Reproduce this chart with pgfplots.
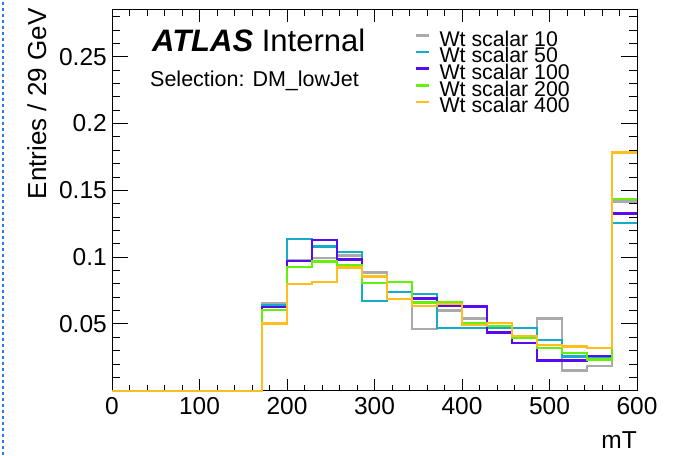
\documentclass[border=0pt]{standalone}
\usepackage{pgfplots}
\usepackage{pgfplotstable}
\pgfplotsset{compat=1.18}
\usepackage{fontspec}
\setmainfont{Liberation Sans}
\definecolor{cgray}{RGB}{170,170,170}
\definecolor{ccyan}{RGB}{20,172,200}
\definecolor{cpurple}{RGB}{90,10,240}
\definecolor{cgreen}{RGB}{100,240,10}
\definecolor{corange}{RGB}{255,190,30}
\definecolor{cblue}{RGB}{40,120,240}

\pgfplotstableread{
x gray cyan purple green orange
0 0 0 0 0 0
28.571 0 0 0 0 0
57.143 0 0 0 0 0
85.714 0 0 0 0 0
114.286 0 0 0 0 0
142.857 0 0 0 0 0
171.429 0.0655 0.064 0.0627 0.0603 0.0502
200 0.098 0.1135 0.097 0.0925 0.0797
228.571 0.0992 0.108 0.113 0.0967 0.0812
257.143 0.1012 0.1037 0.0982 0.0942 0.0922
285.714 0.0885 0.0672 0.0855 0.0807 0.0855
314.286 0.0685 0.074 0.0685 0.0815 0.0685
342.857 0.046 0.0725 0.069 0.066 0.0635
371.429 0.060 0.0468 0.0635 0.066 0.0648
400 0.054 0.047 0.063 0.0505 0.049
428.571 0.0485 0.047 0.0435 0.0485 0.0505
457.143 0.041 0.047 0.0355 0.0397 0.041
485.714 0.054 0.038 0.0225 0.0318 0.034
514.286 0.015 0.0255 0.0225 0.028 0.033
542.857 0.0185 0.025 0.0262 0.0235 0.0318
571.429 0.1417 0.1255 0.1327 0.1435 0.1784
600 0.1417 0.1255 0.1327 0.1435 0.1784
}\histdata

\begin{document}
\begin{tikzpicture}
\path[use as bounding box] (0,0) rectangle (677pt,455pt);
\draw[cblue, line width=2pt, dash pattern=on 3pt off 3pt] (2.5pt,0pt) -- (2.5pt,455pt);
\begin{axis}[
  at={(112pt,64.3pt)}, anchor=south west,
  scale only axis, width=525pt, height=380.7pt,
  xmin=0, xmax=600, ymin=0, ymax=0.285,
  xtick={0,100,200,300,400,500,600}, minor x tick num=4,
  ytick={0.05,0.1,0.15,0.2,0.25},
  minor ytick={0.01,0.02,0.03,0.04,0.06,0.07,0.08,0.09,0.11,0.12,0.13,0.14,0.16,0.17,0.18,0.19,0.21,0.22,0.23,0.24,0.26,0.27,0.28},
  tick align=inside,
  xtick style={/pgfplots/major tick length=12pt, /pgfplots/minor tick length=6pt, black, line width=0.9pt},
  ytick style={/pgfplots/major tick length=16pt, /pgfplots/minor tick length=8pt, black, line width=0.9pt},
  axis line style={line width=1pt},
  tick label style={font=\fontsize{24.5}{24.5}\selectfont},
  /pgf/number format/assume math mode=true,
  yticklabel style={/pgf/number format/fixed, /pgf/number format/precision=2, inner sep=0pt, xshift=-5pt},
  xticklabel style={inner sep=0pt, yshift=-6pt},
  scaled y ticks=false,
  clip=false,
  legend cell align=left,
  legend style={at={(rel axis cs:0.5771,0.9448)}, anchor=north west, draw=none, fill=none,
    inner sep=0pt, outer sep=0pt, row sep=0pt,
    font=\fontsize{21.3}{21.3}\selectfont,
    nodes={inner sep=0pt, text height=15pt, text depth=1.7pt},
    /tikz/every odd column/.append style={column sep=9pt}},
  legend image code/.code={\draw[#1, line width=2.6pt] (0pt,4pt) -- (13pt,4pt);},
  every axis plot/.append style={const plot, line width=2.4pt},
]
\addplot[cgray] table[x=x, y=gray] {\histdata};
\addlegendentry{Wt scalar 10}
\addplot[ccyan] table[x=x, y=cyan] {\histdata};
\addlegendentry{Wt scalar 50}
\addplot[cpurple] table[x=x, y=purple] {\histdata};
\addlegendentry{Wt scalar 100}
\addplot[cgreen] table[x=x, y=green] {\histdata};
\addlegendentry{Wt scalar 200}
\addplot[corange] table[x=x, y=orange] {\histdata};
\addlegendentry{Wt scalar 400}
\end{axis}
\node[anchor=base west, inner sep=0pt] at (152pt,403.3pt) {\fontsize{31}{31}\selectfont\textbf{\textit{ATLAS}} Internal};
\node[anchor=base west, inner sep=0pt] at (150pt,368pt) {\fontsize{21.5}{21.5}\selectfont Selection: DM\_lowJet};
\node[rotate=90, anchor=base east, inner sep=0pt] at (46pt,446.7pt) {\fontsize{26}{26}\selectfont Entries / 29 GeV};
\node[anchor=base east, inner sep=0pt] at (637pt,7pt) {\fontsize{24.5}{24.5}\selectfont mT};
\end{tikzpicture}
\end{document}
